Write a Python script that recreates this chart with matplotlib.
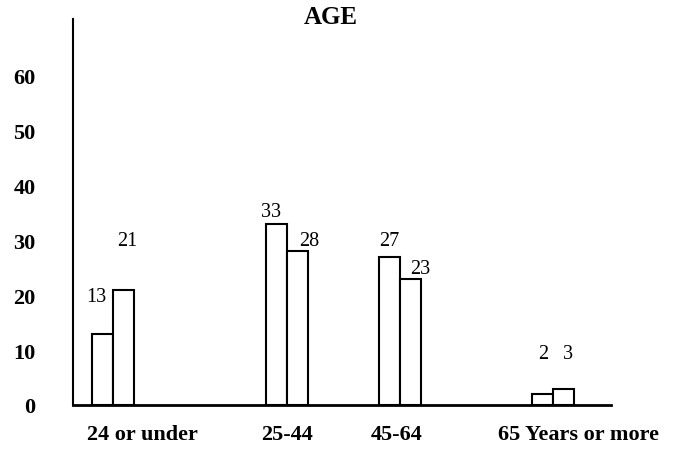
import matplotlib
matplotlib.use("Agg")
import matplotlib.pyplot as plt

plt.rcParams["font.family"] = ["Liberation Serif", "DejaVu Serif"]

# survey data: share of respondents per age band, two samples
categories = ["24 or under", "25-44", "45-64", "65 Years or more"]
first_sample = [13, 33, 27, 2]
second_sample = [21, 28, 23, 3]
y_ticks = [0, 10, 20, 30, 40, 50, 60]

# layout (x axis runs in pixel-like units so uneven group spacing is easy)
group_x = [113, 287, 400, 553]
label_x = [142, 287, 397, 579]
bar_w = 21
# hand placement of the value labels: (dx, dy) relative to bar top
first_offsets = [(-6, 6.8), (-5, 2.1), (0, 3.0), (1, 7.3)]
second_offsets = [(4, 9.0), (12, 2.0), (10, 1.9), (5, 6.3)]

fig = plt.figure(figsize=(6.76, 4.52), dpi=100)
ax = fig.add_axes([73 / 676, 1 - 406 / 452, (611 - 73) / 676, (406 - 20) / 452])

left_x = [g - bar_w / 2 for g in group_x]
right_x = [g + bar_w / 2 for g in group_x]
ax.bar(left_x, first_sample, width=bar_w, facecolor="white",
       edgecolor="black", linewidth=1.5, zorder=2)
ax.bar(right_x, second_sample, width=bar_w, facecolor="white",
       edgecolor="black", linewidth=1.5, zorder=2)

for xs, vals, offs in ((left_x, first_sample, first_offsets),
                       (right_x, second_sample, second_offsets)):
    for x, v, (dx, dy) in zip(xs, vals, offs):
        ax.text(x + dx, v + dy, str(v), ha="center", va="center",
                fontsize=14.5, color="black")

ax.set_xlim(73, 611)
ax.set_ylim(0, 70.2)

for side in ("top", "right"):
    ax.spines[side].set_visible(False)
ax.spines["left"].set_linewidth(1.5)
ax.spines["bottom"].set_linewidth(2.0)

ax.set_yticks(y_ticks)
ax.set_yticklabels([str(t) for t in y_ticks], fontsize=16, fontweight="bold")
ax.set_xticks(label_x)
ax.set_xticklabels(categories, fontsize=16, fontweight="bold")
ax.tick_params(axis="y", length=0, pad=27)
ax.tick_params(axis="x", length=0, pad=13.5)

fig.text(331 / 676, 1 - 17 / 452, "AGE", ha="center", va="center",
         fontsize=18, fontweight="bold")

fig.savefig("out.png", dpi=100)
